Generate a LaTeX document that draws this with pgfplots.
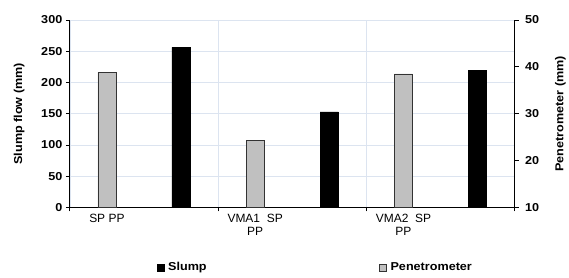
\documentclass[border=0pt]{standalone}
\usepackage{fontspec}
\setmainfont{Liberation Sans}
\newfontfamily\boldwide[FakeStretch=1.1]{Liberation Sans Bold}
\usepackage{pgfplots}
\pgfplotsset{compat=1.18}
\definecolor{gridc}{HTML}{DCE4F0}
\definecolor{pgray}{HTML}{C0C0C0}
\begin{document}
\begin{tikzpicture}
\pgfplotsset{
  base/.style={
    width=446pt, height=188pt, scale only axis,
    at={(0,0)}, anchor=south west,
    xmin=0, xmax=3,
    /pgf/number format/assume math mode=true,
    tick label style={font=\fontsize{11.5}{13}\boldwide},
    label style={font=\fontsize{11.5}{13}\boldwide},
    tick align=outside,
    major tick length=4pt,
    axis line style={black, line width=0.8pt},
    tick style={black, line width=0.8pt},
    legend image code/.code={\draw[#1] (0pt,-3.5pt) rectangle (7pt,3.5pt);},
  }
}
% Primary axis: Slump flow
\begin{axis}[base,
  axis x line*=bottom, axis y line*=left,
  ymin=0, ymax=300, ytick={0,50,...,300},
  xtick={0,1,2,3}, xticklabels={},
  extra x ticks={0.25,1.25,2.25},
  extra x tick labels={SP PP, VMA1\ \ SP\\PP, VMA2\ \ SP\\PP},
  extra x tick style={major tick length=0pt, grid=none,
     tick label style={font=\fontsize{12}{13.5}\selectfont\mdseries, align=center, anchor=north, yshift=-3pt}},
  grid=major, grid style={gridc, line width=0.6pt},
  ylabel={Slump flow (mm)},
  ylabel style={yshift=10pt},
  legend columns=2,
  legend style={draw=none, fill=none, at={(0.195,-0.32)}, anchor=west,
     font=\fontsize{11.5}{13}\boldwide,
     /tikz/every odd column/.append style={column sep=2pt},
     /tikz/every even column/.append style={column sep=171pt},
     inner sep=0pt, nodes={inner sep=2pt}},
]
\addplot[ybar, bar width=0.122, fill=black, draw=black]
  coordinates {(0.75,256) (1.75,153) (2.75,219)};
\addlegendentry{Slump}
\addlegendimage{fill=pgray, draw=black!80, line width=0.4pt}
\addlegendentry{Penetrometer}
\end{axis}
% Secondary axis: Penetrometer
\begin{axis}[base,
  axis x line=none, axis y line*=right,
  ymin=10, ymax=50, ytick={10,20,...,50},
  yticklabel style={xshift=3pt},
  ylabel={Penetrometer (mm)},
  ylabel style={yshift=-9pt},
]
\addplot[ybar, bar width=0.122, fill=pgray, draw=black!80, line width=0.6pt]
  coordinates {(0.25,38.8) (1.25,24.3) (2.25,38.5)};
\end{axis}
\path[use as bounding box] (-70pt,-70pt) rectangle (499pt,208pt);
\end{tikzpicture}
\end{document}
